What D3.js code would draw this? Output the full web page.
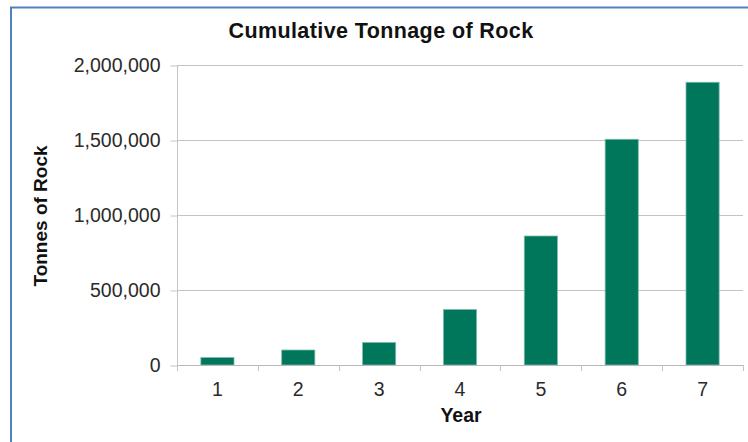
<!DOCTYPE html>
<html>
<head>
<meta charset="utf-8">
<script src="https://cdn.jsdelivr.net/npm/d3@7"></script>
<style>
  html, body { margin: 0; padding: 0; background: #fff; }
  svg { display: block; font-family: "Liberation Sans", Arial, sans-serif; }
</style>
</head>
<body>
<svg id="chart" width="748" height="442"></svg>
<script>
// Cumulative tonnage per year
const years = ["1", "2", "3", "4", "5", "6", "7"];
const tonnes = [50000, 100000, 150000, 370000, 860000, 1505000, 1885000];
const yTicks = [0, 500000, 1000000, 1500000, 2000000];

const svg = d3.select("#chart");

// outer chart frame (runs past the right and bottom edges)
svg.append("rect")
  .attr("x", 11).attr("y", 7.5)
  .attr("width", 760).attr("height", 460)
  .attr("fill", "#fff")
  .attr("stroke", "#4f81bd").attr("stroke-width", 2);

const plot = { left: 177, right: 743, top: 65, bottom: 365 };

const x = d3.scaleBand().domain(years).range([plot.left, plot.right]).paddingInner(0).paddingOuter(0);
const y = d3.scaleLinear().domain([0, 2000000]).range([plot.bottom, plot.top]);

// horizontal gridlines
svg.append("g")
  .selectAll("line")
  .data(yTicks.filter(d => d > 0))
  .join("line")
  .attr("x1", plot.left).attr("x2", plot.right)
  .attr("y1", d => Math.round(y(d)) + 0.5).attr("y2", d => Math.round(y(d)) + 0.5)
  .attr("stroke", "#c4c4c4").attr("stroke-width", 1);

// y axis
const yAxis = d3.axisLeft(y)
  .tickValues(yTicks)
  .tickFormat(d3.format(","))
  .tickSize(7)
  .tickPadding(10);
const gy = svg.append("g")
  .attr("transform", `translate(${plot.left + 0.5},0.5)`)
  .call(yAxis);
gy.select(".domain").attr("stroke", "#c4c4c4").attr("d", `M0,${plot.top}V${plot.bottom}`);
gy.selectAll(".tick line").attr("stroke", "#c4c4c4");
gy.selectAll(".tick text")
  .attr("fill", "#2a2a2a")
  .style("font-size", "19.5px")
  .style("font-family", "'Liberation Sans', Arial, sans-serif");

// bars
const barW = x.bandwidth() * 0.41;
svg.append("g")
  .selectAll("rect")
  .data(tonnes)
  .join("rect")
  .attr("x", (d, i) => x(years[i]) + (x.bandwidth() - barW) / 2)
  .attr("y", d => y(d))
  .attr("width", barW)
  .attr("height", d => plot.bottom - y(d))
  .attr("fill", "#00765a")
  .attr("stroke", "#7fbcab")
  .attr("stroke-width", 0.8);

// x axis line and category ticks
const xAxisG = svg.append("g");
xAxisG.append("line")
  .attr("x1", plot.left).attr("x2", plot.right)
  .attr("y1", plot.bottom + 0.5).attr("y2", plot.bottom + 0.5)
  .attr("stroke", "#b8b8b8");
const boundaries = years.map(d => x(d)).concat([x(years[years.length - 1]) + x.bandwidth()]);
xAxisG.selectAll("line.tick")
  .data(boundaries)
  .join("line")
  .attr("class", "tick")
  .attr("x1", d => Math.round(d) + 0.5).attr("x2", d => Math.round(d) + 0.5)
  .attr("y1", plot.bottom).attr("y2", plot.bottom + 6)
  .attr("stroke", "#c4c4c4");
xAxisG.selectAll("text")
  .data(years)
  .join("text")
  .attr("x", d => x(d) + x.bandwidth() / 2)
  .attr("y", 396)
  .attr("text-anchor", "middle")
  .attr("fill", "#2a2a2a")
  .style("font-size", "19.5px")
  .text(d => d);

// titles
svg.append("text")
  .attr("x", 381).attr("y", 38)
  .attr("text-anchor", "middle")
  .style("font-size", "21.5px").style("font-weight", "bold")
  .style("letter-spacing", "0.4px")
  .attr("fill", "#111")
  .text("Cumulative Tonnage of Rock");

svg.append("text")
  .attr("x", 461).attr("y", 421.5)
  .attr("text-anchor", "middle")
  .style("font-size", "19.5px").style("font-weight", "bold")
  .attr("fill", "#111")
  .text("Year");

svg.append("text")
  .attr("transform", "translate(46.5,216) rotate(-90)")
  .attr("text-anchor", "middle")
  .style("font-size", "19px").style("font-weight", "bold")
  .attr("fill", "#111")
  .text("Tonnes of Rock");
</script>
</body>
</html>
